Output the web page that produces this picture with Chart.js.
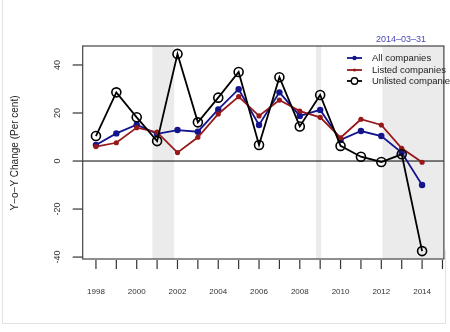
<!DOCTYPE html>
<html>
<head>
<meta charset="utf-8">
<script src="https://cdn.jsdelivr.net/npm/chart.js@4/dist/chart.umd.min.js"></script>
<style>
html,body{margin:0;padding:0;background:#fff;}
canvas{display:block;}
</style>
</head>
<body>
<canvas id="c" width="450" height="332"></canvas>
<script>
const years = [1998,1999,2000,2001,2002,2003,2004,2005,2006,2007,2008,2009,2010,2011,2012,2013,2014];
const allCompanies = [6.7, 11.5, 15.1, 11.3, 12.9, 12.2, 21.5, 29.9, 15.0, 28.6, 18.8, 21.3, 8.8, 12.5, 10.4, 3.5, -10.0];
const listedCompanies = [6.0, 7.6, 13.9, 12.0, 3.5, 9.9, 19.6, 26.8, 18.8, 25.4, 20.8, 18.2, 9.7, 17.4, 15.0, 5.3, -0.5];
const unlistedCompanies = [10.4, 28.6, 18.2, 8.3, 44.6, 16.1, 26.4, 37.1, 6.7, 34.9, 14.4, 27.5, 6.3, 1.8, -0.4, 2.8, -37.5];
const seriesNames = ["All companies", "Listed companies", "Unlisted companies"];
const yTicks = [-40, -20, 0, 20, 40];
const xTickYears = [1998,1999,2000,2001,2002,2003,2004,2005,2006,2007,2008,2009,2010,2011,2012,2013,2014,2015];
const xLabelYears = [1998,2000,2002,2004,2006,2008,2010,2012,2014];
const shadedPeriods = [[2000.77, 2001.84], [2008.8, 2009.05], [2012.05, 2015.2]];
const titleText = "2014\u201303\u201331";
const yTitle = "Y\u2212o\u2212Y Change (Per cent)";

const COL_ALL = "#14148c";
const COL_LIST = "#961818";
const COL_UNL = "#000000";
const FONT = "Liberation Sans, Arial, sans-serif";

function pts(arr){ return years.map((y,i)=>({x:y, y:arr[i]})); }

const decor = {
  id: 'decor',
  beforeDatasetsDraw(chart){
    const {ctx, chartArea:a, scales:{x,y}} = chart;
    ctx.save();
    ctx.fillStyle = "#ebebeb";
    shadedPeriods.forEach(([s,e])=>{
      const x0 = Math.max(a.left, x.getPixelForValue(s));
      const x1 = Math.min(a.right, x.getPixelForValue(e));
      ctx.fillRect(x0, a.top, x1-x0, a.bottom-a.top);
    });
    const y0 = y.getPixelForValue(0);
    ctx.strokeStyle = "#000"; ctx.lineWidth = 1;
    ctx.beginPath(); ctx.moveTo(a.left, y0); ctx.lineTo(a.right, y0); ctx.stroke();
    ctx.restore();
  },
  afterDraw(chart){
    const {ctx, chartArea:a, scales:{x,y}} = chart;
    ctx.save();
    // faint outer frame
    ctx.strokeStyle = "#e2e2e2"; ctx.lineWidth = 1;
    ctx.beginPath(); ctx.moveTo(2.5,0); ctx.lineTo(2.5,323.5); ctx.lineTo(445.5,323.5); ctx.lineTo(445.5,250); ctx.stroke();
    // box
    ctx.strokeStyle = "#444"; ctx.lineWidth = 1.2;
    ctx.strokeRect(a.left, a.top, a.right-a.left, a.bottom-a.top);
    // y ticks
    ctx.strokeStyle = "#333"; ctx.fillStyle = "#333";
    ctx.font = "9px " + FONT;
    yTicks.forEach(v=>{
      const py = y.getPixelForValue(v);
      ctx.beginPath(); ctx.moveTo(a.left-10, py); ctx.lineTo(a.left, py); ctx.stroke();
      ctx.save(); ctx.translate(58, py); ctx.rotate(-Math.PI/2);
      ctx.textAlign = "center"; ctx.textBaseline = "middle";
      ctx.fillText(String(v), 0, 0); ctx.restore();
    });
    // x ticks
    xTickYears.forEach(v=>{
      const px = x.getPixelForValue(v);
      ctx.beginPath(); ctx.moveTo(px, a.bottom+1); ctx.lineTo(px, a.bottom+10); ctx.stroke();
    });
    ctx.font = "8px " + FONT;
    ctx.textAlign = "center"; ctx.textBaseline = "middle";
    xLabelYears.forEach(v=>{
      ctx.fillText(String(v), x.getPixelForValue(v), 292);
    });
    // y title
    ctx.save(); ctx.translate(15, 153); ctx.rotate(-Math.PI/2);
    ctx.font = "10px " + FONT; ctx.fillStyle = "#222";
    ctx.fillText(yTitle, 0, 0); ctx.restore();
    // title
    ctx.font = "9px " + FONT; ctx.fillStyle = "#4848b8";
    ctx.fillText(titleText, 401, 40);
    // legend (in series order)
    const legendItems = [
      { label: seriesNames[0], color: COL_ALL, r: 2.2, open: false },
      { label: seriesNames[1], color: COL_LIST, r: 1.6, open: false },
      { label: seriesNames[2], color: COL_UNL, r: 3.2, open: true }
    ];
    const rows = [58, 70, 81];
    ctx.font = "9.5px " + FONT; ctx.textAlign = "left";
    legendItems.forEach((d,i)=>{
      const ry = rows[i];
      ctx.strokeStyle = d.color; ctx.lineWidth = 1.8;
      ctx.beginPath(); ctx.moveTo(347, ry); ctx.lineTo(362, ry); ctx.stroke();
      ctx.beginPath(); ctx.arc(354.5, ry, d.r, 0, Math.PI*2);
      if (d.open){ ctx.fillStyle="#fff"; ctx.fill(); ctx.lineWidth=1.4; ctx.stroke(); }
      else { ctx.fillStyle = d.color; ctx.fill(); }
      ctx.fillStyle = "#222";
      ctx.fillText(d.label, 372, ry+0.5);
    });
    ctx.restore();
  }
};

new Chart(document.getElementById('c'), {
  type: 'line',
  data: {
    datasets: [
      { label: seriesNames[0], data: pts(allCompanies), borderColor: COL_ALL, backgroundColor: COL_ALL,
        borderWidth: 1.8, pointRadius: 3.2, pointBorderWidth: 0, pointBackgroundColor: COL_ALL, order: 3 },
      { label: seriesNames[1], data: pts(listedCompanies), borderColor: COL_LIST, backgroundColor: COL_LIST,
        borderWidth: 1.8, pointRadius: 2.6, pointBorderWidth: 0, pointBackgroundColor: COL_LIST, order: 2 },
      { label: seriesNames[2], data: pts(unlistedCompanies), borderColor: COL_UNL, backgroundColor: "rgba(255,255,255,0)",
        borderWidth: 1.8, pointRadius: 4.5, pointBorderWidth: 1.6, pointBackgroundColor: "rgba(255,255,255,0)", pointBorderColor: COL_UNL, order: 1 }
    ]
  },
  options: {
    responsive: false,
    animation: false,
    events: [],
    layout: { padding: { left: 82.7, right: 3, top: 46, bottom: 73 } },
    scales: {
      x: { type: 'linear', min: 1997.35, max: 2015.07, display: false },
      y: { type: 'linear', min: -40.8, max: 47.9, display: false }
    },
    plugins: { legend: { display: false }, tooltip: { enabled: false }, title: { display: false } },
    elements: { line: { tension: 0 } }
  },
  plugins: [decor]
});
</script>
</body>
</html>
